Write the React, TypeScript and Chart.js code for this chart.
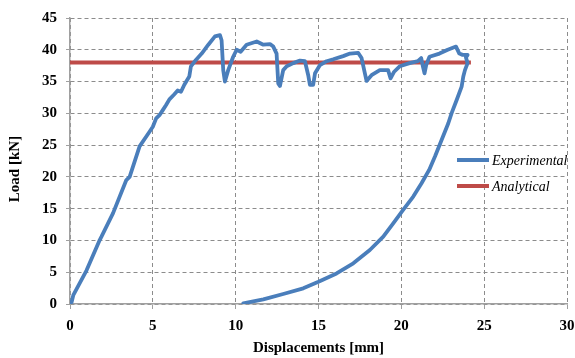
import React, { useEffect, useRef } from "react";
import { Chart, registerables } from "chart.js";

Chart.register(...registerables);

const expX = [0, 0.1, 0.2, 1.0, 1.8, 1.9, 2.6, 3.4, 3.6, 4.2, 4.8, 5.0, 5.2, 5.4, 5.6, 5.8, 6.0, 6.3, 6.5, 6.7, 6.9, 7.2, 7.3, 7.6, 7.95, 8.35, 8.75, 9.05, 9.15, 9.25, 9.35, 9.55, 9.85, 10.06, 10.3, 10.66, 11.27, 11.67, 12.07, 12.27, 12.47, 12.57, 12.67, 12.87, 13.08, 13.48, 13.88, 14.18, 14.38, 14.48, 14.68, 14.79, 15.09, 15.49, 15.89, 16.49, 16.9, 17.4, 17.6, 17.8, 17.9, 18.2, 18.7, 19.2, 19.35, 19.55, 19.9, 20.5, 21.0, 21.2, 21.3, 21.4, 21.5, 21.7, 22.3, 22.8, 23.3, 23.5, 23.7, 24.0, 23.9, 24.0, 23.84, 23.74, 23.64, 23.34, 23.03, 22.83, 22.43, 22.03, 21.68, 21.22, 20.72, 20.11, 19.51, 18.91, 18.1, 17.1, 16.09, 15.0, 14.08, 12.87, 11.67, 10.46];
const expY = [0, 0.3, 1.4, 5.3, 10.1, 10.6, 14.3, 19.5, 20.0, 24.8, 27.1, 27.9, 29.2, 29.7, 30.5, 31.3, 32.2, 33.0, 33.6, 33.4, 34.5, 35.8, 37.4, 38.4, 39.4, 40.8, 42.1, 42.3, 41.5, 36.8, 35.0, 36.8, 38.9, 40.0, 39.7, 40.8, 41.3, 40.8, 40.9, 40.5, 39.4, 34.7, 34.3, 36.8, 37.4, 37.9, 38.3, 38.2, 36.0, 34.5, 34.5, 36.3, 37.6, 38.2, 38.5, 39.0, 39.4, 39.5, 38.7, 36.3, 35.1, 36.0, 36.8, 36.8, 35.5, 36.5, 37.4, 37.9, 38.2, 38.7, 37.4, 36.3, 37.6, 38.9, 39.4, 40.0, 40.5, 39.4, 39.2, 39.2, 38.8, 37.9, 36.8, 35.8, 34.2, 32.1, 30.0, 28.4, 25.8, 23.2, 21.1, 19.0, 16.9, 14.8, 12.7, 10.6, 8.5, 6.4, 4.8, 3.5, 2.47, 1.57, 0.74, 0.1];

const anaX = [0, 24.2];
const anaY = [38, 38];

const xTicks = [0, 5, 10, 15, 20, 25, 30];
const yTicks = [0, 5, 10, 15, 20, 25, 30, 35, 40, 45];

const xTitle = "Displacements [mm]";
const yTitle = "Load [kN]";

const BLUE = "#4A7EBB";
const RED = "#BE4B48";
const SERIF = "'Liberation Serif', 'Times New Roman', serif";

const legendPlugin = {
  id: "customLegend",
  afterDraw(chart: any) {
    const ctx = chart.ctx;
    const items = chart.data.datasets;
    const x0 = 457;
    const rows = [160, 186];
    ctx.save();
    items.forEach((ds: any, i: number) => {
      const y = rows[i];
      ctx.strokeStyle = ds.borderColor;
      ctx.lineWidth = 4;
      ctx.lineCap = "butt";
      ctx.beginPath();
      ctx.moveTo(x0, y);
      ctx.lineTo(x0 + 32, y);
      ctx.stroke();
      ctx.fillStyle = "#000";
      ctx.font = "italic 14px " + SERIF;
      ctx.textBaseline = "middle";
      ctx.textAlign = "left";
      ctx.fillText(ds.label, x0 + 35, y + 1);
    });
    // y axis title
    ctx.translate(15, 169);
    ctx.rotate(-Math.PI / 2);
    ctx.font = "bold 15px " + SERIF;
    ctx.textAlign = "center";
    ctx.textBaseline = "middle";
    ctx.fillStyle = "#000";
    ctx.fillText(yTitle, 0, 0);
    ctx.restore();
  },
};

export default function App() {
  const ref = useRef<HTMLCanvasElement | null>(null);
  useEffect(() => {
    if (!ref.current) return;
    const chart = new Chart(ref.current, {
      type: "line",
      data: {
        datasets: [
          {
            label: "Experimental",
            data: expX.map((x, i) => ({ x, y: expY[i] })),
            borderColor: BLUE,
            backgroundColor: BLUE,
            borderWidth: 3.8,
            pointRadius: 0,
            tension: 0,
            borderJoinStyle: "round",
            borderCapStyle: "round",
          },
          {
            label: "Analytical",
            data: anaX.map((x, i) => ({ x, y: anaY[i] })),
            borderColor: RED,
            backgroundColor: RED,
            borderWidth: 3.8,
            pointRadius: 0,
          },
        ],
      },
      options: {
        animation: false,
        responsive: false,
        layout: { padding: { left: 0, right: 8, top: 18, bottom: 0 } },
        plugins: { legend: { display: false }, tooltip: { enabled: false } },
        scales: {
          x: {
            type: "linear",
            min: 0,
            max: 30,
            afterFit: (s: any) => { s.height = 54; s.paddingRight = 0; s.paddingLeft = 0; },
            afterBuildTicks: (s: any) => { s.ticks = xTicks.map((v) => ({ value: v })); },
            ticks: { color: "#000", font: { family: SERIF, size: 15, weight: "bold" }, padding: 8, maxRotation: 0 },
            grid: { color: "#8c8c8c", tickColor: "#a0a0a0", tickLength: 5, tickBorderDash: [], lineWidth: 1 },
            border: { color: "#a0a0a0", width: 1.5, dash: [4, 3] },
            title: { display: true, text: xTitle, color: "#000", font: { family: SERIF, size: 15, weight: "bold" }, padding: { top: 0, bottom: 1 } },
          },
          y: {
            type: "linear",
            min: 0,
            max: 45,
            afterFit: (s: any) => { s.width = 70; s.paddingTop = 0; s.paddingBottom = 0; },
            afterBuildTicks: (s: any) => { s.ticks = yTicks.map((v) => ({ value: v })); },
            ticks: { color: "#000", font: { family: SERIF, size: 15, weight: "bold" }, padding: 9 },
            grid: { color: "#8c8c8c", tickColor: "#a0a0a0", tickLength: 4, tickBorderDash: [], lineWidth: 1 },
            border: { color: "#a0a0a0", width: 1.5, dash: [4, 3] },
            title: { display: false },
          },
        },
      } as any,
      plugins: [legendPlugin],
    });
    return () => chart.destroy();
  }, []);
  return (
    <div style={{ position: "absolute", left: 0, top: 0, width: 575, height: 358, background: "#fff" }}>
      <canvas ref={ref} width={575} height={358} style={{ display: "block" }} />
    </div>
  );
}
